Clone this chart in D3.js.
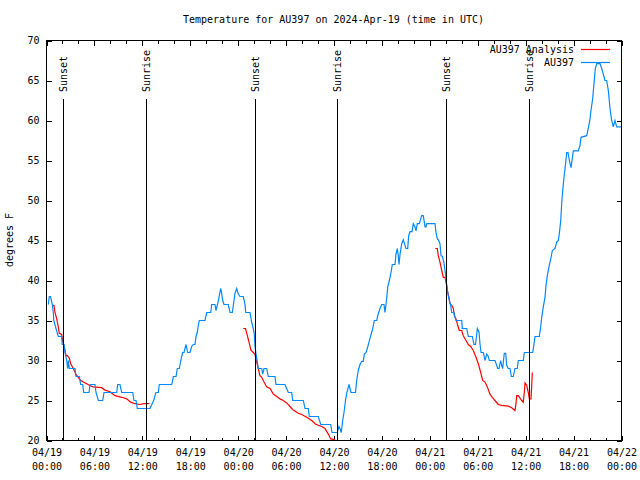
<!DOCTYPE html>
<html><head><meta charset="utf-8">
<script src="https://cdn.jsdelivr.net/npm/d3@7"></script>
<style>
body{margin:0;background:#fff;}
text{font-family:"DejaVu Sans Mono",monospace;font-size:10px;fill:#000;}
</style></head>
<body><svg id="c" width="640" height="480"></svg>
<script>
// ---- data (hours since 2024-04-19 00:00 UTC, degrees F) ----
const startTime = "2024-04-19T00:00:00Z";
const spanHours = 72;
const yTicks = [20,25,30,35,40,45,50,55,60,65,70];
const titleText = "Temperature for AU397 on 2024-Apr-19 (time in UTC)";
const yLabel = "degrees F";
const seriesNames = ["AU397 Analysis", "AU397"];
const eventNames = ["Sunset","Sunrise","Sunset","Sunrise","Sunset","Sunrise"];
const eventHours = [2.07, 12.5, 26.15, 36.41, 50.06, 60.46];

const obsHours = [0.23,0.35,0.50,0.73,0.85,0.91,1.19,1.48,1.90,1.97,2.19,2.32,2.53,2.65,2.75,2.85,3.57,3.69,4.11,4.28,4.53,4.66,5.32,5.45,6.07,6.20,6.49,7.04,7.20,8.79,8.92,9.20,9.42,10.79,10.96,11.21,11.37,12.96,13.46,13.59,13.71,14.0,14.12,15.68,15.80,15.88,16.22,16.38,16.63,16.72,16.93,17.05,17.22,17.34,17.47,17.68,17.97,18.18,18.38,18.59,18.72,18.88,19.01,19.13,19.85,19.93,20.06,20.56,20.69,21.10,21.22,21.48,21.64,21.81,21.94,22.06,22.23,22.76,22.98,23.27,23.48,23.60,23.82,24.02,24.23,24.64,24.86,24.94,25.48,25.69,25.89,26.02,26.11,26.27,26.52,26.95,27.07,27.24,27.57,27.77,28.61,28.73,29.86,30.07,30.28,30.70,30.83,32.16,32.37,32.78,32.91,34.03,34.34,35.59,35.75,36.41,36.62,36.75,36.91,37.09,37.25,37.32,37.44,37.59,37.88,38.13,38.69,38.84,39.04,39.26,39.47,39.67,39.79,40.01,40.17,40.38,40.60,40.85,41.05,41.35,41.47,41.76,41.97,42.26,42.38,42.51,42.63,42.73,42.93,43.14,43.30,43.64,43.76,43.93,44.05,44.14,44.27,44.48,44.68,44.89,45.01,45.23,45.35,45.52,45.77,45.93,46.14,46.27,46.43,46.68,46.86,46.98,47.18,47.40,47.52,47.61,48.65,48.77,48.94,49.06,49.27,49.40,49.58,49.77,49.99,50.11,50.31,50.44,50.61,50.74,51.03,51.15,51.28,51.99,52.07,52.62,52.82,53.32,53.53,53.72,53.95,54.16,54.28,54.41,54.70,54.91,55.12,55.28,55.45,56.16,56.37,56.50,56.66,56.87,56.99,57.12,57.32,57.50,57.62,57.82,58.04,58.20,58.45,58.66,58.95,59.08,59.29,59.71,59.83,60.88,61.05,61.17,61.71,61.88,62.01,62.21,62.42,62.55,62.71,62.92,63.14,63.34,63.67,63.89,64.09,64.21,64.39,64.51,64.64,64.80,64.93,65.14,65.30,65.47,65.68,65.80,65.97,66.59,66.81,66.93,67.64,67.84,68.06,68.18,68.39,68.55,68.72,68.90,69.31,69.52,69.72,69.93,70.14,70.35,70.56,70.77,70.97,71.18,71.40,72.0];
const obsTemps = [37,38,38,37,36,35,34,33,33,32,32,31,30,29,30,29,29,28,28,27,27,26,26,27,27,26,25,25,26,26,27,27,26,26,25,25,24,24,25.1,25.6,26,26,27,27,27.5,28,28,29,29,29.5,30.5,31,31,31.5,32,31,31,31.75,32,32,33,33.5,34.4,35,35,35.4,36,36,37,37,36.25,37.3,38.1,39,38.4,37.5,37,37,36,36,37.5,38.4,39,38.3,38,38,37,36,36,34.8,34,33.3,31.7,30.6,29,29,28.3,29,29,28,28,27,27,26.5,26,26,25,25,24,24,23,23,22,22,21,21,21.75,21.5,21,22.5,23.5,24,25,25.9,27,26,26,27.5,28.75,29.5,29.9,29.9,30.8,31,31.5,32.3,33.1,34,35,35,35.6,36.5,37,37,36,37,38.1,39.2,40,41,42,42,43.3,44,43.1,42,43.3,44.6,45.1,44.4,44,44,45.6,46.1,46.1,47.1,46.7,46.2,47.1,47.1,47.7,48.1,48.1,46.7,46.7,47.1,47.1,46,45.2,45.1,44.6,43.1,43,42.2,40.6,39.4,38.1,37.5,36.9,36,36,35.4,35,35,34,34,33,33,32,32,34,33.5,32.1,31,31,30,30.8,30.6,30,30,29.4,29,29,30,29.4,29,30.9,30.9,29.4,29,29,28,28,29,29,30,30,30,31,31,32.1,33,33,34.2,35.4,36.7,37.9,39.4,40.6,41.7,42.7,43.75,44,44.8,45,45.8,47.5,49.6,51.25,52.9,54,56,56,55,54.1,55,56.2,56.2,56.9,57.9,58.1,59,60.2,61.25,62.7,64.6,66.5,67.1,67.1,66.5,65.8,65,65,63.75,61.5,60,59.2,60,59.2,59.2];

// analysis: null marks a gap between segments
const anaHours = [0.73,0.94,1.06,1.28,1.48,1.60,1.90,2.03,2.19,2.44,2.60,2.85,3.03,3.36,3.69,3.98,4.19,4.61,5.03,5.36,5.86,6.91,7.33,7.95,8.58,9.42,10.04,10.54,11.08,11.71,12.21,12.87,
  18,
  24.64,24.92,25.15,25.36,25.61,25.90,26.11,26.32,26.52,26.73,26.95,27.24,27.57,27.99,28.40,28.83,29.24,29.65,30.08,30.49,30.90,31.53,31.96,32.58,33.21,33.62,34.03,34.46,34.87,35.29,35.59,36.13,
  42,
  48.69,48.94,49.06,49.27,49.49,49.69,49.90,50.11,50.24,50.40,50.53,50.74,50.94,51.07,51.28,51.49,51.69,51.99,52.19,52.53,52.82,53.12,53.44,53.78,54.07,54.37,54.62,54.91,55.20,55.53,55.82,56.16,56.57,57.00,57.83,58.25,58.66,58.79,58.88,59.08,59.50,59.70,59.83,59.92,60.13,60.33,60.46,60.67,60.76,60.83];
const anaTemps = [36.9,36.9,36,35.2,34.2,33.4,33.25,32.5,31.9,30.6,30.6,30.3,29.6,29,28.25,27.9,27.6,27.3,27.1,26.9,26.7,26.6,26.3,26.1,25.6,25.4,25.2,24.8,24.6,24.5,24.6,24.6,
  null,
  34,34,33.1,32.3,31.25,31,30.75,29.8,29,28.1,27.9,27.3,26.7,26.5,25.8,25.5,25.2,25,24.7,24.25,23.8,23.4,23.25,22.9,22.5,22.1,21.9,21.75,21.5,20.8,20.2,20.1,
  null,
  44,44,43.1,42.3,41.25,40.4,40.4,39.4,38.5,37.9,37.1,36.9,36.5,35.6,35.2,34.4,33.75,33.75,33.1,32.5,32,31.75,31.25,30.4,29.6,28.5,27.5,27.3,26.7,25.8,25.4,25,24.5,24.4,24.3,24.1,23.75,24.6,25.6,25.6,25,24.8,26,27.2,26.9,26,25.2,25.2,26.9,28.5];

// ---- drawing ----
const svg = d3.select("#c");
const L = 46.5, R = 621.5, T = 40.5, B = 440.5;
const t0 = new Date(startTime);
const toDate = h => new Date(t0.getTime() + h * 3600e3);
const x = d3.scaleUtc().domain([t0, toDate(spanHours)]).range([L, R]);
const y = d3.scaleLinear().domain([20, 70]).range([B, T]);

svg.append("text").attr("x", 333.5).attr("y", 23).attr("text-anchor", "middle").text(titleText);
svg.append("text").attr("transform", "translate(13,240) rotate(-90)").attr("text-anchor", "middle").text(yLabel);

const fmtDay = d3.utcFormat("%m/%d"), fmtTime = d3.utcFormat("%H:%M");
// bottom major
const gB = svg.append("g").attr("transform", `translate(0,${B})`)
  .call(d3.axisBottom(x).ticks(d3.utcHour.every(6)).tickSizeInner(-5).tickSizeOuter(0).tickPadding(10).tickFormat(""));
gB.selectAll(".tick").each(function(d){
  const t = d3.select(this).append("text").attr("text-anchor","middle").attr("fill","#000");
  t.append("tspan").attr("x",0).attr("y",15.5).text(fmtDay(d));
  t.append("tspan").attr("x",0).attr("y",29.5).text(fmtTime(d));
});
svg.append("g").attr("transform", `translate(0,${B})`)
  .call(d3.axisBottom(x).ticks(d3.utcHour.every(2)).tickSizeInner(-3).tickSizeOuter(0).tickFormat(""));
svg.append("g").attr("transform", `translate(0,${T})`)
  .call(d3.axisTop(x).ticks(d3.utcHour.every(6)).tickSizeInner(-5).tickSizeOuter(0).tickFormat(""));
svg.append("g").attr("transform", `translate(0,${T})`)
  .call(d3.axisTop(x).ticks(d3.utcHour.every(2)).tickSizeInner(-3).tickSizeOuter(0).tickFormat(""));
const gL = svg.append("g").attr("transform", `translate(${L},0)`)
  .call(d3.axisLeft(y).tickValues(yTicks).tickSizeInner(-5).tickSizeOuter(0).tickPadding(7).tickFormat(d3.format("d")));
gL.selectAll("text").attr("font-family", "DejaVu Sans Mono").attr("font-size", 10).attr("fill","#000");
svg.append("g").attr("transform", `translate(${R},0)`)
  .call(d3.axisRight(y).tickValues(yTicks).tickSizeInner(-5).tickSizeOuter(0).tickFormat(""));
svg.selectAll(".domain").remove();
svg.selectAll(".tick line").attr("stroke", "#000").attr("shape-rendering","crispEdges");

svg.append("defs").append("clipPath").attr("id","clip")
  .append("rect").attr("x", L).attr("y", T).attr("width", R - L).attr("height", B - T);

const line = d3.line().defined(d => d[1] !== null).x(d => x(toDate(d[0]))).y(d => y(d[1]));
const anaData = anaHours.map((h,i) => [h, anaTemps[i]]);
const obsData = obsHours.map((h,i) => [h, obsTemps[i]]);
const plot = svg.append("g").attr("clip-path","url(#clip)");
plot.append("path").datum(anaData).attr("d", line).attr("fill","none").attr("stroke","#ff0000").attr("stroke-width",1.2);
plot.append("path").datum(obsData).attr("d", line).attr("fill","none").attr("stroke","#0088ff").attr("stroke-width",1.2);

// event lines
eventHours.forEach((h,i) => {
  const xx = Math.round(x(toDate(h))) + 0.5;
  svg.append("line").attr("x1",xx).attr("x2",xx).attr("y1",B).attr("y2",99)
    .attr("stroke","#000").attr("stroke-width",1).attr("shape-rendering","crispEdges");
  svg.append("text").attr("transform",`translate(${xx+3.5},92) rotate(-90)`).text(eventNames[i]);
});

// frame
svg.append("rect").attr("x",L).attr("y",T).attr("width",R-L).attr("height",B-T)
  .attr("fill","none").attr("stroke","#000").attr("shape-rendering","crispEdges");

// legend
const legColors = ["#ff0000","#0088ff"];
seriesNames.forEach((n,i) => {
  const yy = 49.5 + i*13;
  svg.append("text").attr("x",574).attr("y",yy+3.5).attr("text-anchor","end").text(n);
  svg.append("line").attr("x1",581).attr("x2",610).attr("y1",yy).attr("y2",yy)
    .attr("stroke",legColors[i]).attr("stroke-width",1.2);
});
</script></body></html>
